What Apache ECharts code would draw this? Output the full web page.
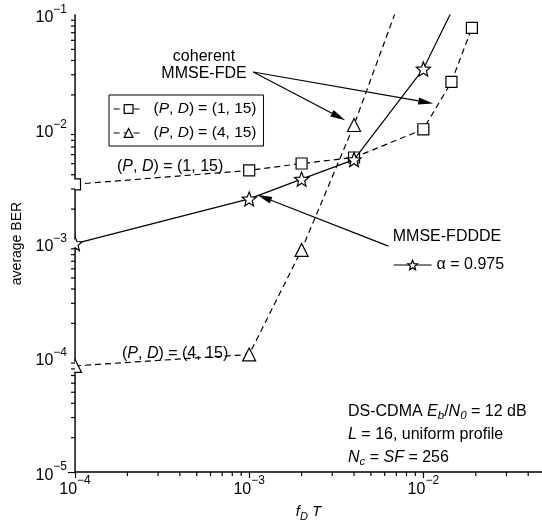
<!DOCTYPE html>
<html><head><meta charset="utf-8">
<script src="https://cdn.jsdelivr.net/npm/echarts@6/dist/echarts.min.js"></script>
<style>html,body{margin:0;padding:0;background:#fff}#c{width:542px;height:527px}</style>
</head><body><div id="c"></div>
<script>
// ---- data ----
const xSq = [1e-4, 1e-3, 2e-3, 4e-3, 1e-2, 1.45e-2, 1.9e-2];
const berSq = [3.3e-3, 4.37e-3, 5.02e-3, 5.66e-3, 1.0e-2, 2.6e-2, 7.7e-2];
const xTri = [1e-4, 1e-3, 2e-3, 4e-3, 1e-2];
const berTri = [8.5e-5, 1.07e-4, 8.8e-4, 1.09e-2, 0.49];
const xStar = [1e-4, 1e-3, 2e-3, 4e-3, 1e-2, 2e-2];
const berStar = [1.0e-3, 2.46e-3, 3.66e-3, 5.43e-3, 3.37e-2, 0.29];

const xMajorTicks = [1e-4, 1e-3, 1e-2];
const xMinorTicks = [2e-4,3e-4,4e-4,5e-4,6e-4,7e-4,8e-4,9e-4,2e-3,3e-3,4e-3,5e-3,6e-3,7e-3,8e-3,9e-3,2e-2,3e-2,4e-2];
const yMajorTicks = [1e-5, 1e-4, 1e-3, 1e-2, 1e-1];
const yMinorTicks = [2e-5,3e-5,4e-5,5e-5,6e-5,7e-5,8e-5,9e-5,2e-4,3e-4,4e-4,5e-4,6e-4,7e-4,8e-4,9e-4,2e-3,3e-3,4e-3,5e-3,6e-3,7e-3,8e-3,9e-3,2e-2,3e-2,4e-2,5e-2,6e-2,7e-2,8e-2,9e-2];
const xMin = 1e-4, xMax = 0.048, yMin = 1e-5, yMax = 1e-1;

// annotation arrows (data coordinates)
const arrows = [
  {from: [1.055e-3, 3.17e-2], to: [3.56e-3, 1.2e-2]},
  {from: [1.055e-3, 3.17e-2], to: [1.14e-2, 1.68e-2]},
  {from: [6.3e-3, 9.5e-4], to: [1.11e-3, 2.67e-3]}
];

const F = '"Liberation Sans", Arial, Helvetica, sans-serif';
const STAR = 'path://M50 0 L62.93 32.2 L97.55 34.55 L70.92 56.8 L79.39 90.45 L50 72 L20.61 90.45 L29.08 56.8 L2.45 34.55 L37.07 32.2 Z';

function pow10Label(v) {
  const l = Math.log10(v), e = Math.round(l);
  if (Math.abs(l - e) > 1e-6) return '';
  return '{b|10}{s|' + (e < 0 ? '\u2212' + (-e) : e) + '}';
}
const supRich = {
  b: {fontSize: 16, fontFamily: F, color: '#000', lineHeight: 22, verticalAlign: 'bottom'},
  s: {fontSize: 12, fontFamily: F, color: '#000', lineHeight: 12, verticalAlign: 'top'}
};

const NSQ = 'sq', NTRI = 'tri', NSTAR = 'star';
const legendNames = {sq: '({i|P}, {i|D}) = (1, 15)', tri: '({i|P}, {i|D}) = (4, 15)', star: '\u03b1 = 0.975'};
const symStyle = {color: '#fff', borderColor: '#000', borderWidth: 1.2};

const chart = echarts.init(document.getElementById('c'));
chart.setOption({
  animation: false,
  grid: {left: 75, right: 0, top: 15, bottom: 47},
  xAxis: {
    type: 'log', logBase: 10, min: xMin, max: xMax,
    axisLine: {lineStyle: {color: '#000', width: 1.6}},
    axisTick: {show: true, length: 6, lineStyle: {color: '#000', width: 1.2}}, splitLine: {show: false},
    axisLabel: {formatter: pow10Label, rich: supRich, margin: 3, showMaxLabel: false},
    name: '{i|f}{sub|D}{i| T}', nameLocation: 'middle', nameGap: 27,
    nameTextStyle: {fontSize: 15, fontFamily: F, color: '#000', lineHeight: 20,
      rich: {i: {fontStyle: 'italic', fontSize: 15, fontFamily: F, lineHeight: 20},
             sub: {fontStyle: 'italic', fontSize: 11, fontFamily: F, lineHeight: 10, verticalAlign: 'bottom'}}}
  },
  yAxis: {
    type: 'log', logBase: 10, min: yMin, max: yMax,
    axisLine: {lineStyle: {color: '#000', width: 1.6}},
    axisTick: {show: true, length: 7, lineStyle: {color: '#000', width: 1.2}}, splitLine: {show: false},
    axisLabel: {formatter: pow10Label, rich: supRich, margin: 8},
    name: 'average BER', nameLocation: 'middle', nameGap: 50, nameRotate: 90,
    nameTextStyle: {fontSize: 14, fontFamily: F, color: '#000'}
  },
  legend: [{
    data: [NSQ, NTRI], orient: 'vertical', left: 109, top: 95,
    itemWidth: 30, itemHeight: 11, itemGap: 8,
    borderColor: '#000', borderWidth: 1, padding: [6, 7, 5, 4],
    lineStyle: {width: 1.2}, itemStyle: {borderWidth: 1.2},
    formatter: n => legendNames[n],
    textStyle: {fontSize: 15.5, fontFamily: F, color: '#000', padding: [0, 0, 0, 5],
                rich: {i: {fontStyle: 'italic', fontSize: 15.5, fontFamily: F}}}
  }, {
    data: [NSTAR], left: 388, top: 252, itemWidth: 38, itemHeight: 12,
    lineStyle: {width: 1.2}, itemStyle: {borderWidth: 1.2},
    formatter: n => legendNames[n],
    textStyle: {fontSize: 16, fontFamily: F, color: '#000'}
  }],
  series: [
    {name: NSQ, type: 'line', data: xSq.map((x, i) => [x, berSq[i]]), symbol: 'rect', symbolSize: 11,
     itemStyle: symStyle, lineStyle: {color: '#000', width: 1.2, type: [6, 4]}, z: 3},
    {name: NTRI, type: 'line', data: xTri.map((x, i) => [x, berTri[i]]), symbol: 'triangle', symbolSize: 13,
     itemStyle: symStyle, lineStyle: {color: '#000', width: 1.2, type: [6, 4]}, z: 3},
    {name: NSTAR, type: 'line', data: xStar.map((x, i) => [x, berStar[i]]), symbol: STAR, symbolSize: 14,
     itemStyle: symStyle, lineStyle: {color: '#000', width: 1.2}, z: 4}
  ]
});

const richT = {
  i: {fontStyle: 'italic', fontSize: 16, fontFamily: F, lineHeight: 20},
  sub: {fontStyle: 'italic', fontSize: 11.5, fontFamily: F, lineHeight: 10, verticalAlign: 'bottom'}
};
function txt(x, y, text, size, align, rich) {
  return {type: 'text', x: x, y: y, z: 10, silent: true,
    style: {text: text, fontSize: size, fontFamily: F, fill: '#000', align: align || 'left',
            verticalAlign: 'middle', lineHeight: 20, rich: rich}};
}
const gfx = [];
function addTicks(vals, axis, len) {
  vals.forEach(v => {
    const p = chart.convertToPixel({gridIndex: 0}, axis === 'x' ? [v, yMin] : [xMin, v]);
    const shape = axis === 'x' ? {x: p[0] - 0.6, y: p[1], width: 1.2, height: len}
                               : {x: p[0] - len, y: p[1] - 0.6, width: len, height: 1.2};
    gfx.push({type: 'rect', z: 11, silent: true, shape: shape, style: {fill: '#000'}});
  });
}
addTicks(xMinorTicks, 'x', 4);
addTicks(yMinorTicks, 'y', 4);
// mask left of the y axis so edge markers appear cut by the axis
const o = chart.convertToPixel({gridIndex: 0}, [xMin, yMin]);
const t = chart.convertToPixel({gridIndex: 0}, [xMin, yMax]);
gfx.push({type: 'rect', z: 5, silent: true, shape: {x: o[0] - 8, y: t[1] - 8, width: 7.2, height: o[1] - t[1] + 8},
          style: {fill: '#fff'}});

gfx.push(
  txt(204, 57, 'coherent', 16, 'center'),
  txt(204, 74, 'MMSE-FDE', 16, 'center'),
  txt(117, 167, '({i|P}, {i|D}) = (1, 15)', 16, 'left', richT),
  txt(122, 354, '({i|P}, {i|D}) = (4, 15)', 16, 'left', richT),
  txt(447, 237, 'MMSE-FDDDE', 16, 'center'),
  txt(348, 412, 'DS-CDMA {i|E}{sub|b}/{i|N}{sub|0} = 12 dB', 16, 'left', richT),
  txt(348, 435, '{i|L} = 16, uniform profile', 16, 'left', richT),
  txt(348, 458, '{i|N}{sub|c} = {i|SF} = 256', 16, 'left', richT)
);
arrows.forEach(a => {
  const p0 = chart.convertToPixel({gridIndex: 0}, a.from);
  const p1 = chart.convertToPixel({gridIndex: 0}, a.to);
  const dx = p1[0] - p0[0], dy = p1[1] - p0[1], L = Math.hypot(dx, dy);
  const ux = dx / L, uy = dy / L, hl = 15, hw = 3.6;
  const bx = p1[0] - ux * hl, by = p1[1] - uy * hl;
  gfx.push({type: 'line', z: 9, silent: true, shape: {x1: p0[0], y1: p0[1], x2: bx, y2: by},
            style: {stroke: '#000', lineWidth: 1.2}});
  gfx.push({type: 'polygon', z: 9, silent: true,
            shape: {points: [[p1[0], p1[1]], [bx - uy * hw, by + ux * hw], [bx + uy * hw, by - ux * hw]]},
            style: {fill: '#000'}});
});
chart.setOption({graphic: gfx});
</script>
</body></html>
